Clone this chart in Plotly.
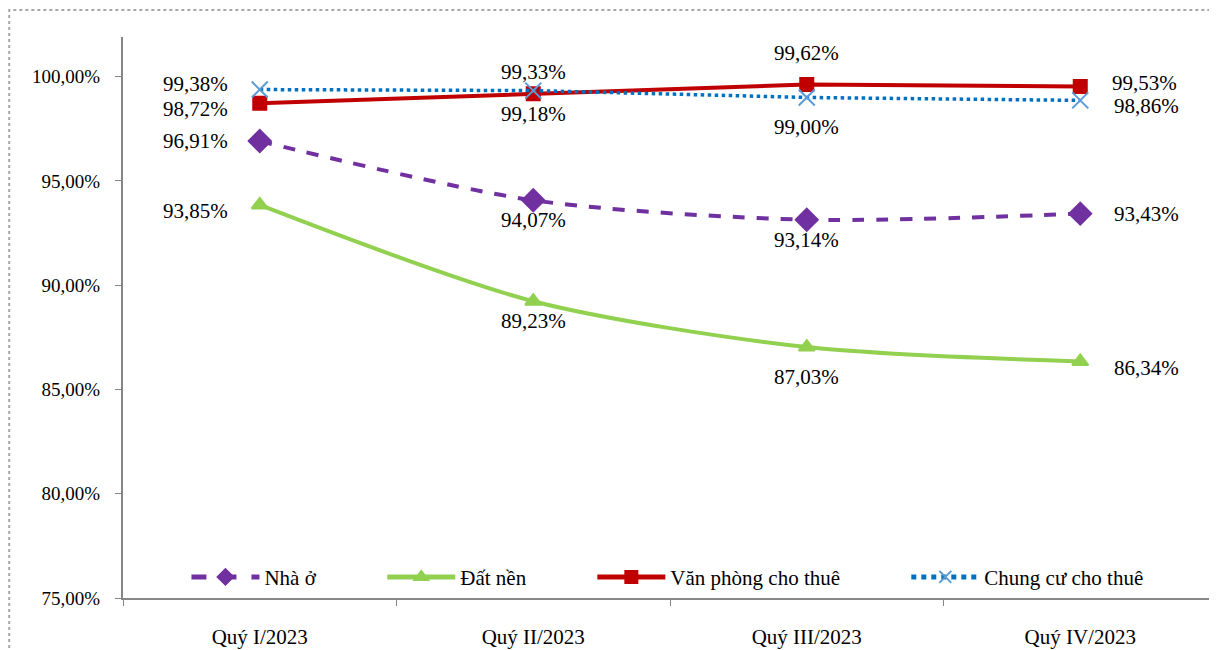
import plotly.graph_objects as go

# data (percent)
quarters = ['Quý I/2023', 'Quý II/2023', 'Quý III/2023', 'Quý IV/2023']
nha_o = [96.91, 94.07, 93.14, 93.43]
dat_nen = [93.85, 89.23, 87.03, 86.34]
van_phong = [98.72, 99.18, 99.62, 99.53]
chung_cu = [99.38, 99.33, 99.00, 98.86]
y_ticks = [75, 80, 85, 90, 95, 100]

FONT = 'Liberation Serif'

series = [
    # name, values, color, dash, marker symbol, marker size, marker color, spline, label places
    ('Nhà ở', nha_o, '#7030A0', 'dash', 'diamond', 17, '#7030A0', True,
     ['left', 'below', 'below', 'right']),
    ('Đất nền', dat_nen, '#92D050', 'solid', 'triangle-up', 14, '#92D050', True,
     ['left_low', 'below', 'below_far', 'right_low']),
    ('Văn phòng cho thuê', van_phong, '#C00000', 'solid', 'square', 13, '#C00000', False,
     ['left_low', 'below', 'above_far', 'right_up']),
    ('Chung cư cho thuê', chung_cu, '#0070C0', 'dot', 'x-thin-open', 16, '#5B9BD5', False,
     ['left_up', 'above', 'below_far', 'right_low']),
]
legend_x = [0.058, 0.237, 0.429, 0.716]

# pixel offsets of the value labels relative to the marker
places = {
    'left': ('right', -30, 0), 'left_up': ('right', -30, 6), 'left_low': ('right', -30, -6),
    'right': ('left', 32, 0), 'right_up': ('left', 30, 3), 'right_low': ('left', 32, -6),
    'below': ('center', 0, -20), 'below_far': ('center', 0, -30),
    'above': ('center', 0, 19), 'above_far': ('center', 0, 32),
}

fig = go.Figure()
annotations = []
legends = {}
for i, (name, vals, color, dash, sym, size, mcolor, spline, lab) in enumerate(series):
    leg = 'legend' if i == 0 else f'legend{i + 1}'
    legends[leg] = dict(
        orientation='h', x=legend_x[i], y=0.037, xanchor='left', yanchor='middle',
        font=dict(family=FONT, size=21, color='#000000'), itemwidth=68,
        itemsizing='constant', bgcolor='rgba(0,0,0,0)',
    )
    fig.add_trace(go.Scatter(
        x=quarters, y=vals, name=name, mode='lines+markers', legend=leg,
        line=dict(color=color, width=4 if dash != 'dot' else 3.5, dash=dash,
                  shape='spline' if spline else 'linear', smoothing=0.8),
        marker=dict(symbol=sym, size=size, color=mcolor,
                    line=dict(color=mcolor, width=2)),
    ))
    for q, v, p in zip(quarters, vals, lab):
        anchor, dx, dy = places[p]
        annotations.append(dict(
            x=q, y=v, xref='x', yref='y', showarrow=False,
            text=f'{v:.2f}%'.replace('.', ','),
            xanchor=anchor, yanchor='middle', xshift=dx, yshift=dy,
            font=dict(family=FONT, size=21, color='#000000'),
        ))

# dotted outer frame of the chart
frame = [dict(
    type='rect', xref='paper', yref='paper',
    x0=-0.104, x1=0.997, y0=-0.2, y1=1.048,
    line=dict(color='#A6A6A6', width=2, dash='dot'),
)]

# the page body adds an 8px offset, so the figure is 8px smaller than the window
fig.update_layout(
    width=1209, height=642,
    margin=dict(l=115, r=0, t=29, b=52),
    paper_bgcolor='white', plot_bgcolor='white',
    font=dict(family=FONT, size=19, color='#000000'),
    showlegend=True,
    annotations=annotations,
    shapes=frame,
    **legends,
)
fig.update_xaxes(
    type='category', range=[-0.5, 3.5], showgrid=False,
    showline=True, linecolor='#868686', linewidth=2,
    ticks='outside', tickson='boundaries', ticklen=6, tickcolor='#868686',
    ticklabelstandoff=19, tickfont=dict(family=FONT, size=21, color='#000000'),
)
fig.update_yaxes(
    range=[75, 101.9], tickvals=y_ticks,
    ticktext=[f'{t:.2f}%'.replace('.', ',') for t in y_ticks],
    showgrid=False, zeroline=False,
    showline=True, linecolor='#868686', linewidth=2,
    ticks='outside', ticklen=6, tickcolor='#868686',
    ticklabelstandoff=11, tickfont=dict(family=FONT, size=19, color='#000000'),
)

fig.write_html('out.html')
